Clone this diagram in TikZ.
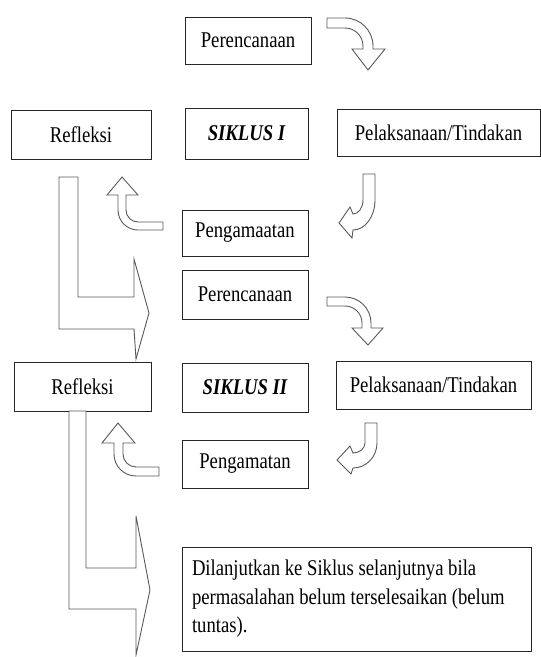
\documentclass[tikz,border=0pt]{standalone}
\usepackage{fontspec}
\setmainfont{Liberation Serif}[FakeStretch=0.83]
\usepackage{tikz}
\usetikzlibrary{positioning}

\begin{document}
\begin{tikzpicture}[
    x=1pt, y=1pt,
    every node/.style={font=\fontsize{22.5}{28.5}\selectfont, text=black},
    box/.style={rectangle, draw=black!85, line width=0.9pt, inner sep=0pt},
    cyclebox/.style={box, font=\fontsize{22.5}{28.5}\selectfont\bfseries\itshape},
    notebox/.style={box, align=flush left},
    blockarrow/.style={draw=black!65, line width=0.9pt, fill=white, line join=miter},
]
\useasboundingbox (0,0) rectangle (541,-657);

% Define boxes of cycle I (nodes)
\node[box, minimum width=126pt, minimum height=47pt] (per1) at (248,-40.5) {Perencanaan};
\node[box, minimum width=140pt, minimum height=49pt] (refl1) at (81,-134.5) {Refleksi};
\node[cyclebox, minimum width=123pt, minimum height=51pt] (sik1) at (246.5,-133.5) {SIKLUS I};
\node[box, minimum width=203pt, minimum height=47pt] (pel1) at (438.5,-132.5) {Pelaksanaan/Tindakan};
\node[box, minimum width=126pt, minimum height=46pt] (peng1) at (245,-233) {Pengamaatan};

% Define boxes of cycle II (nodes)
\node[box, minimum width=126pt, minimum height=49pt] (per2) at (245,-294.5) {Perencanaan};
\node[box, minimum width=137pt, minimum height=49pt] (refl2) at (82.5,-386.5) {Refleksi};
\node[cyclebox, minimum width=126pt, minimum height=49pt] (sik2) at (245,-387.5) {SIKLUS II};
\node[box, minimum width=195pt, minimum height=48pt] (pel2) at (433.5,-385) {Pelaksanaan/Tindakan};
\node[box, minimum width=126pt, minimum height=48pt] (peng2) at (245,-464) {Pengamatan};

% Closing note
\node[notebox, minimum width=349pt, minimum height=104pt, text width=329pt] (lanjut) at (356.5,-599)
    {Dilanjutkan ke Siklus selanjutnya bila\\permasalahan belum terselesaikan (belum\\tuntas).};

% Curved arrows, cycle I
\draw[blockarrow] (327,-18) -- (345,-18) arc[start angle=90, end angle=0, radius=28] -- (373,-49) -- (385,-49)
    -- (368,-70) -- (352,-49) -- (363,-49) -- (363,-46) arc[start angle=0, end angle=90, radius=18] -- (327,-28) -- cycle;
\draw[blockarrow] (363,-174) -- (375,-174) -- (375,-200) arc[start angle=0, end angle=-90, x radius=22, y radius=30]
    -- (352,-238) -- (339,-223) -- (350,-207) -- (353,-214) arc[start angle=-90, end angle=0, x radius=10, y radius=14] -- cycle;
\draw[blockarrow] (163,-230) -- (138,-230) arc[start angle=270, end angle=180, radius=20] -- (118,-195) -- (107,-195)
    -- (122,-177) -- (138,-195) -- (126,-195) -- (126,-210) arc[start angle=180, end angle=270, radius=12] -- (163,-222) -- cycle;

% Curved arrows, cycle II
\draw[blockarrow] (327,-297) -- (345,-297) arc[start angle=90, end angle=0, radius=26] -- (371,-328) -- (383,-328)
    -- (368,-345) -- (352,-328) -- (362,-328) -- (362,-323) arc[start angle=0, end angle=90, radius=17] -- (327,-306) -- cycle;
\draw[blockarrow] (365,-423) -- (377,-423) -- (377,-443) arc[start angle=0, end angle=-90, x radius=24, y radius=25]
    -- (351,-474) -- (337,-460) -- (350,-446) -- (353,-453) arc[start angle=-90, end angle=0, x radius=12, y radius=10] -- cycle;
\draw[blockarrow] (159,-476) -- (136,-476) arc[start angle=270, end angle=180, radius=22] -- (114,-443) -- (102,-443)
    -- (118,-423) -- (135,-443) -- (123,-443) -- (123,-454) arc[start angle=180, end angle=270, radius=13] -- (159,-467) -- cycle;

% Bent arrows from Refleksi
\draw[blockarrow] (59,-177) -- (78,-177) -- (78,-297) -- (134,-297) -- (134,-259) -- (149,-313)
    -- (136,-359) -- (134,-329) -- (59,-329) -- cycle;
\draw[blockarrow] (69,-411) -- (86,-411) -- (86,-568) -- (136,-568) -- (136,-516) -- (150,-590)
    -- (136,-655) -- (136,-609) -- (69,-609) -- cycle;

\end{tikzpicture}
\end{document}
